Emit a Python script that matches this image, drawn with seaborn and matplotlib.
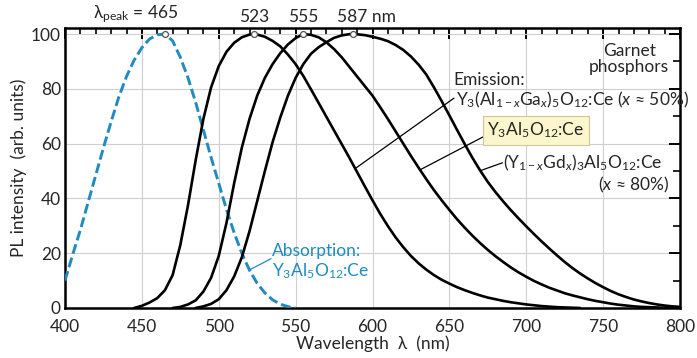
import numpy as np
import pandas as pd
import matplotlib
matplotlib.use("Agg")
import matplotlib.pyplot as plt
import seaborn as sns

# ---------------- data, 5 nm steps ----------------
absorption_start = 400
absorption_yag = [10, 19.5, 28.5, 38.5, 48.5, 58.5, 68, 77, 84.5, 90.5, 95, 98.2, 99.7, 100,
                  97.5, 91.5, 84, 75, 65, 55, 45.5, 36, 27.5, 20, 13.8, 9, 5.5, 3, 1.4,
                  0.5, 0]

em_yagg_start = 445   # Y3(Al1-xGax)5O12:Ce, peak 523 nm
em_yagg = [0, 0.8, 2, 3.6, 6.5, 12, 23, 37.5, 54, 69, 80.5, 88.3, 93.5, 96.8, 98.8, 99.8,
           99.8, 99, 97.5, 95.5, 92.5, 89, 84.7, 79.8, 74.8, 69.8, 64.8, 59.8, 54.8, 49.6,
           44.4, 39.3, 34.4, 29.9, 25.8, 22.2, 19, 16.3, 14, 12, 10.3, 8.9, 7.6, 6.5, 5.5,
           4.6, 3.8, 3.2, 2.6, 2.1, 1.7, 1.3, 1.0, 0.7, 0.5, 0.3, 0.2, 0.1, 0]

em_yag_start = 470    # Y3Al5O12:Ce, peak 555 nm
em_yag = [0, 0.4, 1.3, 2.8, 6, 11, 19, 31, 45.5, 58.5, 69, 77.5, 84, 89, 93, 96.2, 98.5,
          100, 99.7, 98.8, 97, 94.5, 91.5, 88, 84.5, 81, 77.5, 73.3, 69, 64.5, 60, 55.5,
          51.2, 47, 43, 39.3, 35.8, 32.4, 29.3, 26.4, 23.7, 21.2, 18.9, 16.8, 14.8, 13,
          11.4, 9.9, 8.6, 7.4, 6.4, 5.4, 4.6, 3.9, 3.2, 2.6, 2.1, 1.6, 1.2, 0.9, 0.6, 0.4,
          0.3, 0.2, 0.1, 0]

em_ygdag_start = 485  # (Y1-xGdx)3Al5O12:Ce, peak 587 nm
em_ygdag = [0, 0.6, 1.5, 3.2, 6.5, 11.5, 18.5, 28, 39, 50, 60.5, 69.5, 77.5, 84, 89,
            92.8, 95.2, 97, 98.6, 99.5, 99.95, 99.9, 99.6, 99, 98.3, 97.4, 96, 94.2, 91.8,
            88.8, 85.2, 80.5, 75.5, 70.3, 65, 59.8, 54.8, 50.2, 46, 42.3, 38.9, 35.7, 32.7,
            29.8, 27, 24.3, 21.7, 19.2, 16.8, 14.6, 12.6, 10.8, 9.1, 7.6, 6.2, 5, 4, 3.1,
            2.4, 1.8, 1.3, 0.9, 0.6, 0.4]

peak_wl = [465, 523, 555, 587]
peak_int = [100, 100, 100, 100]

x_ticks = [400, 450, 500, 550, 600, 650, 700, 750, 800]
y_ticks = [0, 20, 40, 60, 80, 100]


def frame(start, vals):
    return pd.DataFrame({"wl": list(range(start, start + 5 * len(vals), 5)), "I": vals})


# ---------------- style ----------------
sns.set_theme(style="white")
plt.rcParams["font.family"] = ["Lato", "DejaVu Sans"]
plt.rcParams["mathtext.fontset"] = "custom"
plt.rcParams["mathtext.rm"] = "Lato"
plt.rcParams["mathtext.it"] = "Lato:italic"
plt.rcParams["mathtext.bf"] = "Lato:bold"

BLUE = "#1f8bc0"
FS = 12.5

fig = plt.figure(figsize=(6.97, 3.58), dpi=100)
ax = fig.add_axes([65/697, 1-308/358, (680-65)/697, (308-28)/358])

sns.lineplot(data=frame(absorption_start, absorption_yag), x="wl", y="I", ax=ax,
             color=BLUE, lw=2.1, linestyle=(0, (3.4, 1.4)), zorder=3)
for start, series in ((em_yagg_start, em_yagg), (em_yag_start, em_yag),
                      (em_ygdag_start, em_ygdag)):
    sns.lineplot(data=frame(start, series), x="wl", y="I", ax=ax, color="black",
                 lw=1.9, zorder=3)

sns.scatterplot(x=peak_wl, y=peak_int, ax=ax, s=18, facecolor="white",
                edgecolor="#555555", linewidth=0.9, zorder=5, clip_on=False)

ax.set_xlim(400, 800)
ax.set_ylim(0, 102.2)
ax.set_xticks(x_ticks)
ax.set_yticks(y_ticks)
ax.set_xticks(range(400, 801, 10), minor=True)
ax.set_yticks(range(0, 101, 10), minor=True)
ax.tick_params(axis="both", which="major", direction="in", length=8, width=1.4,
               labelsize=FS, top=True, right=True, color="black")
ax.tick_params(axis="x", which="major", pad=8)
ax.tick_params(axis="y", which="major", pad=3)
ax.tick_params(axis="both", which="minor", direction="in", length=5, width=1.2,
               top=True, right=True, color="black")
ax.grid(True, which="major", color="#cfcfcf", lw=0.8, zorder=0)
for s in ax.spines.values():
    s.set_linewidth(1.8)
    s.set_color("black")

ax.set_xlabel("Wavelength  λ  (nm)", fontsize=FS, labelpad=0)
ax.set_ylabel("PL intensity  (arb. units)", fontsize=FS, labelpad=3)

# ---------------- annotations ----------------
ax.text(474, 103.3, r"λ$_{\rm peak}$ = 465", ha="right", va="bottom", fontsize=FS)
ax.text(523, 103.3, "523", ha="center", va="bottom", fontsize=FS)
ax.text(555, 103.3, "555", ha="center", va="bottom", fontsize=FS)
ax.text(577, 103.3, "587 nm", ha="left", va="bottom", fontsize=FS)

ax.text(767, 91, "Garnet\nphosphors", ha="center", va="center", fontsize=FS,
        linespacing=1.0, multialignment="center")
ax.text(652.4, 83.2, "Emission:", ha="left", va="center", fontsize=FS)
ax.text(654.3, 75.9, r"Y$_3$(Al$_{1-x}$Ga$_x$)$_5$O$_{12}$:Ce ($x$ ≈ 50%)",
        ha="left", va="center", fontsize=FS, clip_on=False)
ax.text(674.5, 64.8, r"Y$_3$Al$_5$O$_{12}$:Ce", ha="left", va="center", fontsize=FS,
        bbox=dict(boxstyle="square,pad=0.25", facecolor="#fbf6cc", edgecolor="#cfc79a", lw=0.8),
        zorder=6)
ax.text(684.9, 52.9, r"(Y$_{1-x}$Gd$_x$)$_3$Al$_5$O$_{12}$:Ce", ha="left", va="center",
        fontsize=FS)
ax.text(793, 44.9, r"($x$ ≈ 80%)", ha="right", va="center", fontsize=FS)

ax.text(534.4, 20.8, "Absorption:", ha="left", va="center", fontsize=FS, color=BLUE)
ax.text(534.4, 13.6, r"Y$_3$Al$_5$O$_{12}$:Ce", ha="left", va="center", fontsize=FS, color=BLUE)

# leader lines
ax.plot([653, 588.5], [76.6, 50.8], color="black", lw=0.9, zorder=4)
ax.plot([675.5, 631.5], [63.5, 50.6], color="black", lw=0.9, zorder=4)
ax.plot([684.5, 670.5], [53.0, 50.2], color="black", lw=0.9, zorder=4)
ax.plot([534.0, 520.0], [18.0, 13.9], color=BLUE, lw=0.9, zorder=4)

fig.savefig("out.png", dpi=100)
